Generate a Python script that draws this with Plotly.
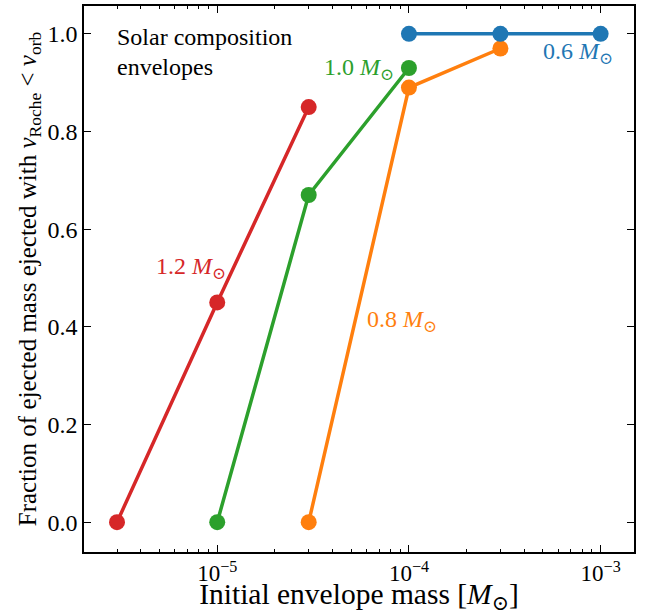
import plotly.graph_objects as go

# Data
mass_12 = [3e-6, 1e-5, 3e-5]
frac_12 = [0.0, 0.45, 0.85]
mass_10 = [1e-5, 3e-5, 1e-4]
frac_10 = [0.0, 0.67, 0.93]
mass_08 = [3e-5, 1e-4, 3e-4]
frac_08 = [0.0, 0.89, 0.97]
mass_06 = [1e-4, 3e-4, 1e-3]
frac_06 = [1.0, 1.0, 1.0]

x_tickvals = [1e-5, 1e-4, 1e-3]
x_ticktext = ["10<sup>−5</sup>", "10<sup>−4</sup>", "10<sup>−3</sup>"]
y_tickvals = [0.0, 0.2, 0.4, 0.6, 0.8, 1.0]
y_ticktext = ["0.0", "0.2", "0.4", "0.6", "0.8", "1.0"]
x_minor = [m * 10.0 ** e for e in (-6, -5, -4, -3) for m in range(2, 10)]

RED, GREEN, ORANGE, BLUE = "#d62728", "#2ca02c", "#ff7f0e", "#1f77b4"
FONT = "Liberation Serif, Times New Roman, DejaVu Serif, serif"

fig = go.Figure()
for xs, ys, c in [(mass_12, frac_12, RED), (mass_10, frac_10, GREEN),
                  (mass_08, frac_08, ORANGE), (mass_06, frac_06, BLUE)]:
    fig.add_trace(go.Scatter(x=xs, y=ys, mode="lines+markers",
                             line=dict(color=c, width=3.5),
                             marker=dict(color=c, size=16),
                             showlegend=False, hoverinfo="skip"))

msun = "<i>M</i><sub>⊙</sub>"
def lab(text, x, y, color, anchor):
    fig.add_annotation(x=x, y=y, xref="x", yref="y", text=text, showarrow=False,
                       xanchor=anchor, yanchor="middle",
                       font=dict(family=FONT, size=24, color=color))

lab("1.2 " + msun, -4.945, 0.52, RED, "right")
lab("1.0 " + msun, -4.07, 0.929, GREEN, "right")
lab("0.8 " + msun, -4.23, 0.413, ORANGE, "left")
lab("0.6 " + msun, -3.31, 0.960, BLUE, "left")

fig.add_annotation(x=(115 - 84) / 550, y=(552 - 37) / 546, xref="paper", yref="paper",
                   text="Solar composition", showarrow=False, xanchor="left", yanchor="middle",
                   font=dict(family=FONT, size=24, color="black"))
fig.add_annotation(x=(115 - 84) / 550, y=(552 - 67) / 546, xref="paper", yref="paper",
                   text="envelopes", showarrow=False, xanchor="left", yanchor="middle",
                   font=dict(family=FONT, size=24, color="black"))

fig.update_xaxes(type="log", range=[-5.695, -2.826],
                 tickmode="array", tickvals=x_tickvals, ticktext=x_ticktext,
                 ticks="inside", ticklen=7, tickwidth=1.3, tickcolor="black",
                 minor=dict(tickmode="array", tickvals=x_minor, ticks="inside",
                            ticklen=3.5, tickwidth=1.1, tickcolor="black", showgrid=False),
                 showline=True, linecolor="black", linewidth=1.5, mirror="ticks",
                 showgrid=False, zeroline=False,
                 tickfont=dict(family=FONT, size=23, color="black"),
                 title=dict(text="Initial envelope mass [" + msun + "]",
                            font=dict(family=FONT, size=29.5, color="black"), standoff=7))
fig.update_yaxes(range=[-0.061, 1.057],
                 tickmode="array", tickvals=y_tickvals, ticktext=y_ticktext,
                 ticks="inside", ticklen=7, tickwidth=1.3, tickcolor="black",
                 showline=True, linecolor="black", linewidth=1.5, mirror="ticks",
                 showgrid=False, zeroline=False,
                 tickfont=dict(family=FONT, size=24, color="black"),
                 title=dict(text="Fraction of ejected mass ejected with <i>v</i><sub>Roche</sub> &lt; <i>v</i><sub>orb</sub>",
                            font=dict(family=FONT, size=25, color="black"), standoff=4))

fig.update_layout(width=645, height=614, plot_bgcolor="white", paper_bgcolor="white",
                  margin=dict(l=84, r=11, t=6, b=62, autoexpand=False))

fig.write_html("out.html", config={"displayModeBar": False},
               post_script="document.body.style.margin='0';document.body.style.padding='0';")
